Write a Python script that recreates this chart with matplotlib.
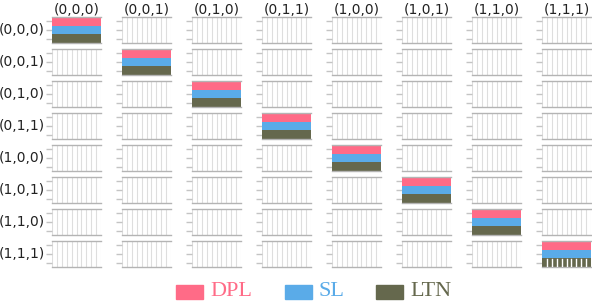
import matplotlib
matplotlib.use("Agg")
import matplotlib.pyplot as plt
from matplotlib.patches import Rectangle

# state labels for rows and columns
states = ["(0,0,0)", "(0,0,1)", "(0,1,0)", "(0,1,1)",
          "(1,0,0)", "(1,0,1)", "(1,1,0)", "(1,1,1)"]

# one value per (row, col) panel for each series
dpl = [[1, 0, 0, 0, 0, 0, 0, 0],
       [0, 1, 0, 0, 0, 0, 0, 0],
       [0, 0, 1, 0, 0, 0, 0, 0],
       [0, 0, 0, 1, 0, 0, 0, 0],
       [0, 0, 0, 0, 1, 0, 0, 0],
       [0, 0, 0, 0, 0, 1, 0, 0],
       [0, 0, 0, 0, 0, 0, 1, 0],
       [0, 0, 0, 0, 0, 0, 0, 1]]
sl = [[1, 0, 0, 0, 0, 0, 0, 0],
      [0, 1, 0, 0, 0, 0, 0, 0],
      [0, 0, 1, 0, 0, 0, 0, 0],
      [0, 0, 0, 1, 0, 0, 0, 0],
      [0, 0, 0, 0, 1, 0, 0, 0],
      [0, 0, 0, 0, 0, 1, 0, 0],
      [0, 0, 0, 0, 0, 0, 1, 0],
      [0, 0, 0, 0, 0, 0, 0, 1]]
ltn = [[1, 0, 0, 0, 0, 0, 0, 0],
       [0, 1, 0, 0, 0, 0, 0, 0],
       [0, 0, 1, 0, 0, 0, 0, 0],
       [0, 0, 0, 1, 0, 0, 0, 0],
       [0, 0, 0, 0, 1, 0, 0, 0],
       [0, 0, 0, 0, 0, 1, 0, 0],
       [0, 0, 0, 0, 0, 0, 1, 0],
       [0, 0, 0, 0, 0, 0, 0, 1]]

series_names = ["DPL", "SL", "LTN"]
colors = {"DPL": "#ff6b87", "SL": "#5aabe8", "LTN": "#65684d"}

W, H = 592, 302
fig = plt.figure(figsize=(W / 100, H / 100), dpi=100)


def px(x, y, w=0, h=0):
    # pixel box (top-left origin) -> figure fraction
    return [x / W, 1 - (y + h) / H, w / W, h / H]


for i in range(8):
    for j in range(8):
        ax = fig.add_axes(px(52 + 70 * j, 17 + 32 * i, 49, 26))
        vals = {"DPL": dpl[i][j], "SL": sl[i][j], "LTN": ltn[i][j]}
        for k, name in enumerate(["LTN", "SL", "DPL"]):
            ax.barh(k, vals[name], height=1.0, color=colors[name],
                    linewidth=0, zorder=2)
        if i == 7 and j == 7:
            # grid shows through the bottom bar in the last panel
            for gx in [0.1 * n for n in range(1, 10)]:
                ax.plot([gx, gx], [-0.5, 0.4], color="white", lw=1, zorder=3)
        ax.set_xlim(0, 1)
        ax.set_ylim(-0.5, 2.5)
        ax.set_xticks([n / 10 for n in range(11)])
        ax.set_xticklabels([])
        ax.tick_params(axis="x", length=0)
        ax.set_yticks([0, 1, 2])
        ax.set_yticklabels([])
        ax.tick_params(axis="y", length=4, width=1, color="#c4c4c4", pad=2)
        ax.grid(axis="x", color="#dedede", lw=0.8, zorder=0)
        ax.set_axisbelow(True)
        for side in ["left", "right"]:
            ax.spines[side].set_visible(False)
        for side in ["top", "bottom"]:
            ax.spines[side].set_color("#b4b4b4")
            ax.spines[side].set_linewidth(1)
        if i == 0:
            ax.set_title(states[j], fontsize=10, pad=2, color="#222222")
        if j == 0:
            fig.text(45 / W, 1 - (30 + 32 * i) / H, states[i], fontsize=10,
                     ha="right", va="center", color="#222222")

# legend along the bottom
legend_x = [176, 285, 376]
for name, x in zip(series_names, legend_x):
    fig.add_artist(Rectangle((x / W, 1 - 299 / H), 27 / W, 14 / H,
                             transform=fig.transFigure, color=colors[name]))
    fig.text((x + 34) / W, 1 - 292 / H, name, color=colors[name],
             fontsize=16, family="Liberation Serif", va="center", ha="left")

fig.savefig("out.png", dpi=100)
